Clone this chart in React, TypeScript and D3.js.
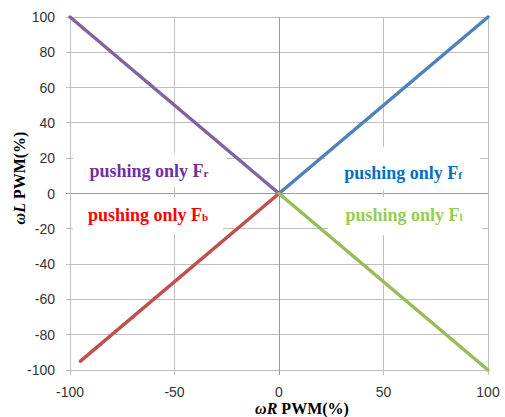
import React, { useEffect, useRef } from 'react';
import * as d3 from 'd3';

// Series endpoints (x = ωR PWM %, y = ωL PWM %)
const frX = [-100, 0];
const frY = [100, 0];
const ffX = [0, 100];
const ffY = [0, 100];
const fbX = [-95, 0];
const fbY = [-95, 0];
const flX = [0, 100];
const flY = [0, -100];

const xTicks = [-100, -50, 0, 50, 100];
const yTicks = [-100, -80, -60, -40, -20, 0, 20, 40, 60, 80, 100];

const App = () => {
  const ref = useRef(null);

  useEffect(() => {
    const width = 505;
    const height = 417;
    const margin = { top: 17, right: 17, bottom: 47, left: 70 };

    d3.select(ref.current).selectAll('*').remove();

    const svg = d3.select(ref.current)
      .append('svg')
      .attr('width', width)
      .attr('height', height)
      .style('position', 'absolute')
      .style('left', 0)
      .style('top', 0)
      .style('background', '#fff');

    const x = d3.scaleLinear().domain([-100, 100]).range([margin.left, width - margin.right]);
    const y = d3.scaleLinear().domain([-100, 100]).range([height - margin.bottom, margin.top]);

    const grid = svg.append('g');

    // horizontal gridlines + left ticks
    grid.selectAll('.hg')
      .data(yTicks)
      .enter()
      .append('line')
      .attr('x1', x(-100) - 4)
      .attr('x2', x(100))
      .attr('y1', d => y(d))
      .attr('y2', d => y(d))
      .attr('stroke', d => (d === 0 ? '#9a9a9a' : '#bfbfbf'))
      .attr('stroke-width', 1)
      .attr('shape-rendering', 'crispEdges');

    // vertical gridlines + bottom ticks
    grid.selectAll('.vg')
      .data(xTicks)
      .enter()
      .append('line')
      .attr('x1', d => x(d))
      .attr('x2', d => x(d))
      .attr('y1', y(100))
      .attr('y2', y(-100) + 5)
      .attr('stroke', d => (d === 0 ? '#9a9a9a' : '#bfbfbf'))
      .attr('stroke-width', 1)
      .attr('shape-rendering', 'crispEdges');

    // tick labels
    svg.selectAll('.yl')
      .data(yTicks)
      .enter()
      .append('text')
      .attr('x', x(-100) - 15)
      .attr('y', d => y(d) + 5)
      .attr('text-anchor', 'end')
      .attr('font-family', 'Liberation Sans, Arial, sans-serif')
      .attr('font-size', 14)
      .attr('fill', '#333')
      .text(d => d);

    svg.selectAll('.xl')
      .data(xTicks)
      .enter()
      .append('text')
      .attr('x', d => x(d))
      .attr('y', y(-100) + 27)
      .attr('text-anchor', 'middle')
      .attr('font-family', 'Liberation Sans, Arial, sans-serif')
      .attr('font-size', 14)
      .attr('fill', '#333')
      .text(d => d);

    // label boxes (white background hides gridlines)
    const labels = [
      { sub: 'r', color: '#7030a0', box: [73, 153, 154, 34], tx: 149, ty: 177 },
      { sub: 'b', color: '#ff0000', box: [73, 197, 150, 37], tx: 148, ty: 221 },
      { sub: 'f', color: '#0070c0', box: [325, 147, 155, 43], tx: 403, ty: 179 },
      { sub: 'l', color: '#92d050', box: [328, 197, 154, 38], tx: 404, ty: 221 },
    ];

    labels.forEach(l => {
      svg.append('rect')
        .attr('x', l.box[0])
        .attr('y', l.box[1])
        .attr('width', l.box[2])
        .attr('height', l.box[3])
        .attr('fill', '#fff');
    });

    // series lines
    const series = [
      { xs: frX, ys: frY, color: '#8064a2' },
      { xs: ffX, ys: ffY, color: '#4f81bd' },
      { xs: fbX, ys: fbY, color: '#c0504d' },
      { xs: flX, ys: flY, color: '#9bbb59' },
    ];
    const line = d3.line<number[]>().x(d => x(d[0])).y(d => y(d[1]));
    series.forEach(s => {
      svg.append('path')
        .attr('d', line(s.xs.map((v, i) => [v, s.ys[i]])))
        .attr('fill', 'none')
        .attr('stroke', s.color)
        .attr('stroke-width', 3.5)
        .attr('stroke-linecap', 'round');
    });

    labels.forEach(l => {
      const t = svg.append('text')
        .attr('x', l.tx)
        .attr('y', l.ty)
        .attr('text-anchor', 'middle')
        .attr('font-family', 'Liberation Serif, Times New Roman, serif')
        .attr('font-weight', 'bold')
        .attr('font-size', 18)
        .attr('fill', l.color);
      t.append('tspan').text('pushing only F');
      t.append('tspan').attr('font-size', 11).text(l.sub);
    });

    // axis titles
    const xt = svg.append('text')
      .attr('x', 302)
      .attr('y', 414)
      .attr('text-anchor', 'middle')
      .attr('font-family', 'Liberation Serif, Times New Roman, serif')
      .attr('font-weight', 'bold')
      .attr('font-size', 16)
      .attr('fill', '#000');
    xt.append('tspan').attr('font-style', 'italic').text('ωR');
    xt.append('tspan').text(' PWM(%)');

    const yt = svg.append('text')
      .attr('transform', 'translate(25,178) rotate(-90)')
      .attr('text-anchor', 'middle')
      .attr('font-family', 'Liberation Serif, Times New Roman, serif')
      .attr('font-weight', 'bold')
      .attr('font-size', 16)
      .attr('fill', '#000');
    yt.append('tspan').attr('font-style', 'italic').text('ωL');
    yt.append('tspan').text(' PWM(%)');
  }, []);

  return <div ref={ref}></div>;
};

export default App;
